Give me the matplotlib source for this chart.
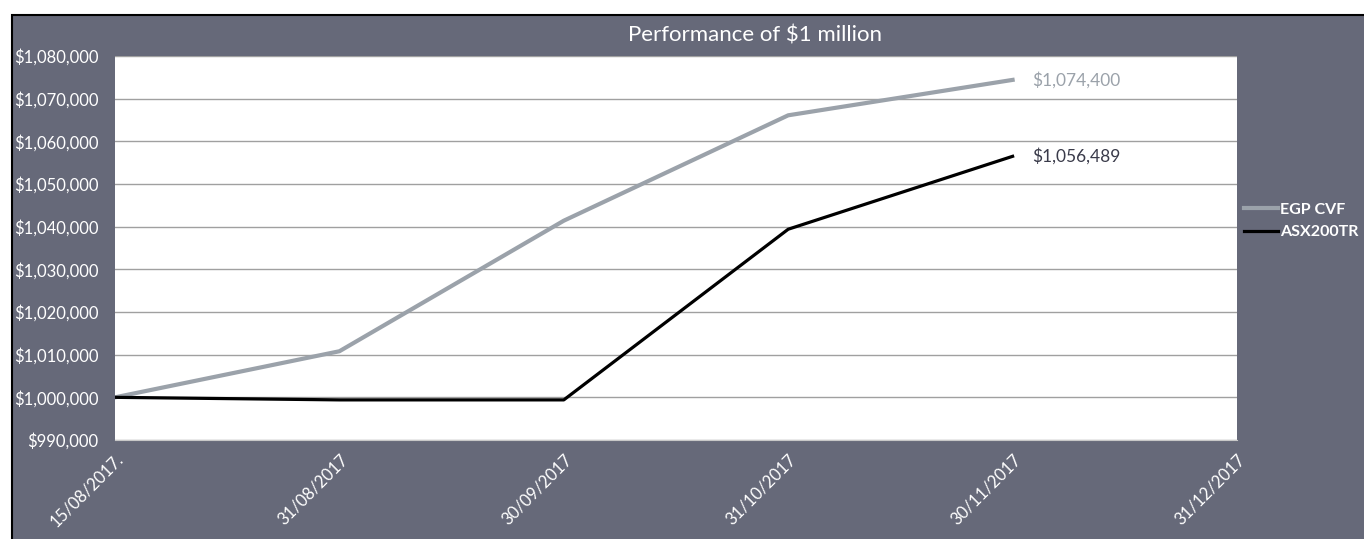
import numpy as np
import matplotlib.pyplot as plt
from matplotlib.patches import Rectangle
from matplotlib.ticker import FuncFormatter

plt.rcParams['font.family'] = ['Lato', 'DejaVu Sans']

dates = ["15/08/2017.", "31/08/2017", "30/09/2017", "31/10/2017", "30/11/2017", "31/12/2017"]
egp_cvf = [1000000, 1010800, 1041400, 1066100, 1074400]
asx200tr = [1000000, 999400, 999400, 1039400, 1056489]

bg = "#666979"
W, H = 1364, 539

fig = plt.figure(figsize=(W / 100, H / 100), dpi=100, facecolor="white")
# grey panel with black border, offset like the reference
fig.patches.append(Rectangle((12 / W, -0.02), 1.0, 1.02 - 15 / H,
                             transform=fig.transFigure, facecolor=bg,
                             edgecolor="black", linewidth=1.5, zorder=-1))

ax = fig.add_axes([115 / W, 1 - 440 / H, (1237 - 115) / W, (440 - 56) / H])
ax.set_facecolor("white")

x = np.arange(len(dates))
ax.plot(x[:len(egp_cvf)], egp_cvf, color="#9ba2aa", lw=3, label="EGP CVF")
ax.plot(x[:len(asx200tr)], asx200tr, color="black", lw=2.3, label="ASX200TR")

ax.set_xlim(0, len(dates) - 1)
ax.set_ylim(990000, 1080000)
ax.set_yticks(np.arange(990000, 1080001, 10000))
ax.yaxis.set_major_formatter(FuncFormatter(lambda v, p: f"${v:,.0f}"))
ax.set_xticks(x)
ax.set_xticklabels(dates, rotation=45, ha="right", rotation_mode="anchor")
ax.tick_params(axis="both", length=0, colors="white", labelsize=12)
ax.tick_params(axis="y", pad=12)
ax.tick_params(axis="x", pad=8)
ax.grid(axis="y", color="#a0a0a0", lw=1)
ax.set_axisbelow(True)
for s in ["top", "right", "left"]:
    ax.spines[s].set_visible(False)
ax.spines["bottom"].set_color("#c8c8c8")

ax.annotate(f"${egp_cvf[-1]:,}", (x[len(egp_cvf) - 1], egp_cvf[-1]), xytext=(14, 0),
            textcoords="offset points", va="center", ha="left", color="#9ba2aa", fontsize=12.5)
ax.annotate(f"${asx200tr[-1]:,}", (x[len(asx200tr) - 1], asx200tr[-1]), xytext=(14, 0),
            textcoords="offset points", va="center", ha="left", color="#3a3b4a", fontsize=12.5)

fig.text(755 / W, 1 - 35 / H, "Performance of $1 million", color="white",
         fontsize=16, ha="center", va="center")

leg = fig.legend(loc="center left", bbox_to_anchor=(1244 / W, 1 - 221 / H), frameon=False,
                 handlelength=2.1, handletextpad=0.15, labelspacing=0.5, borderpad=0,
                 borderaxespad=0, prop={"weight": "bold", "size": 11.5})
for t in leg.get_texts():
    t.set_color("white")

fig.savefig("out.png", dpi=100, facecolor=fig.get_facecolor())
